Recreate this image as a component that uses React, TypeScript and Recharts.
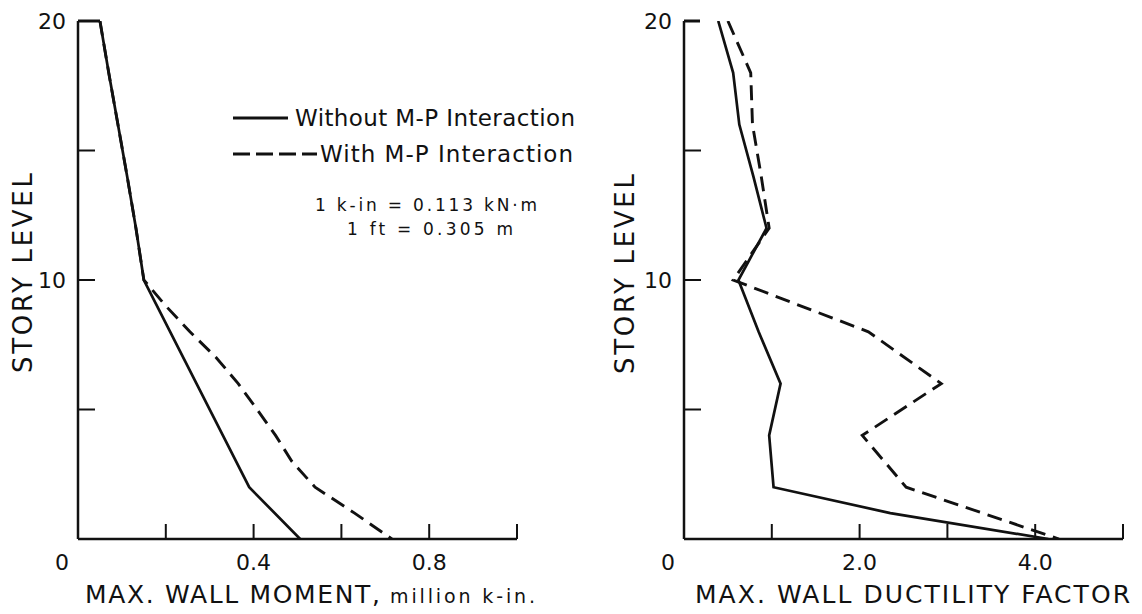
import React from 'react';
import { ScatterChart, Scatter, XAxis, YAxis } from 'recharts';

// Story levels and response values (moment in million k-in., ductility factor)
const momentLevelsWithout = [20, 18, 16, 14, 12, 10, 8, 6, 4, 2, 0];
const momentWithout = [0.05, 0.07, 0.091, 0.112, 0.132, 0.15, 0.21, 0.27, 0.33, 0.39, 0.506];

const momentLevelsWith = [20, 18, 16, 14, 12, 10, 9, 8, 7, 6, 5, 4, 3, 2, 1, 0];
const momentWith = [0.05, 0.07, 0.091, 0.112, 0.132, 0.15, 0.2, 0.255, 0.315, 0.365, 0.408, 0.45, 0.487, 0.54, 0.63, 0.715];

const ductLevelsWithout = [20, 18, 16, 14, 12, 10, 8, 6, 4, 2, 1, 0];
const ductWithout = [0.39, 0.56, 0.63, 0.79, 0.94, 0.62, 0.85, 1.1, 0.97, 1.02, 2.35, 4.15];

const ductLevelsWith = [20, 18, 16, 14, 12, 10, 8, 6, 4, 2, 0];
const ductWith = [0.5, 0.76, 0.78, 0.88, 0.97, 0.56, 2.1, 2.93, 2.03, 2.53, 4.27];

// Axis ticks and the labels shown on them
const storyTicks = [0, 5, 10, 15, 20];
const storyTickLabels: Record<string, string> = { '10': '10', '20': '20' };
const momentTicks = [0, 0.2, 0.4, 0.6, 0.8, 1.0];
const momentTickLabels: Record<string, string> = { '0': '0', '0.4': '0.4', '0.8': '0.8' };
const ductTicks = [0, 1, 2, 3, 4, 5];
const ductTickLabels: Record<string, string> = { '0': '0', '2': '2.0', '4': '4.0' };

const INK = '#111';
const FONT = '"DejaVu Sans", "Liberation Sans", sans-serif';
const AXIS_BAND = 30;

const toPoints = (xs: number[], ys: number[]) => xs.map((v, i) => ({ x: v, y: ys[i] }));

const makeXTick = (labels: Record<string, string>) => (props: any) => {
  const { x, y, payload } = props;
  const v = payload.value;
  const label = labels[String(v)];
  return (
    <g>
      {v !== 0 && <line x1={x} y1={y} x2={x} y2={y - 15} stroke={INK} strokeWidth={2} />}
      {label && (
        <text x={v === 0 ? x - 16 : x} y={y + 31} textAnchor="middle" fontSize={22} fontFamily={FONT} fill={INK}>
          {label}
        </text>
      )}
    </g>
  );
};

const makeYTick = (topLength: number) => (props: any) => {
  const { x, y, payload } = props;
  const v = payload.value;
  const label = storyTickLabels[String(v)];
  const len = v === 20 ? topLength : 17;
  return (
    <g>
      {v !== 0 && <line x1={x} y1={y} x2={x + len} y2={y} stroke={INK} strokeWidth={v === 20 ? 3 : 2} />}
      {label && (
        <text x={x - 12} y={y + 8} textAnchor="end" fontSize={22} fontFamily={FONT} fill={INK}>
          {label}
        </text>
      )}
    </g>
  );
};

const noDot = () => <g />;

const solidLine = { stroke: INK, strokeWidth: 2.7, fill: 'none' };
const dashedLine = { stroke: INK, strokeWidth: 2.9, fill: 'none', strokeDasharray: '15 8' };

function Panel(props: {
  width: number;
  height: number;
  margin: { top: number; right: number; bottom: number; left: number };
  xMax: number;
  xTicks: number[];
  xLabels: Record<string, string>;
  topTick: number;
  solid: { x: number; y: number }[];
  dashed: { x: number; y: number }[];
}) {
  const { width, height, margin, xMax, xTicks, xLabels, topTick, solid, dashed } = props;
  return (
    <ScatterChart
      width={width}
      height={height}
      margin={{
        top: margin.top,
        right: margin.right,
        bottom: margin.bottom - AXIS_BAND,
        left: margin.left - AXIS_BAND,
      }}
    >
      <XAxis
        type="number"
        dataKey="x"
        domain={[0, xMax]}
        ticks={xTicks}
        height={AXIS_BAND}
        tickSize={0}
        tickMargin={0}
        interval={0}
        axisLine={{ stroke: INK, strokeWidth: 2.5 }}
        tickLine={false}
        tick={makeXTick(xLabels)}
        allowDataOverflow
      />
      <YAxis
        type="number"
        dataKey="y"
        domain={[0, 20]}
        ticks={storyTicks}
        width={AXIS_BAND}
        tickSize={0}
        tickMargin={0}
        interval={0}
        axisLine={{ stroke: INK, strokeWidth: 2.5 }}
        tickLine={false}
        tick={makeYTick(topTick)}
        allowDataOverflow
      />
      <Scatter data={solid} line={solidLine} shape={noDot} isAnimationActive={false} />
      <Scatter data={dashed} line={dashedLine} shape={noDot} isAnimationActive={false} />
    </ScatterChart>
  );
}

export default function App() {
  return (
    <div style={{ position: 'absolute', left: 0, top: 0, width: 1142, height: 614, background: '#fff' }}>
      <div style={{ position: 'absolute', left: 0, top: 0 }}>
        <Panel
          width={560}
          height={614}
          margin={{ top: 21, right: 43, bottom: 75, left: 78 }}
          xMax={1.0}
          xTicks={momentTicks}
          xLabels={momentTickLabels}
          topTick={22}
          solid={toPoints(momentWithout, momentLevelsWithout)}
          dashed={toPoints(momentWith, momentLevelsWith)}
        />
      </div>
      <div style={{ position: 'absolute', left: 560, top: 0 }}>
        <Panel
          width={582}
          height={614}
          margin={{ top: 21, right: 19, bottom: 75, left: 124 }}
          xMax={5}
          xTicks={ductTicks}
          xLabels={ductTickLabels}
          topTick={16}
          solid={toPoints(ductWithout, ductLevelsWithout)}
          dashed={toPoints(ductWith, ductLevelsWith)}
        />
      </div>
      <svg
        width={1142}
        height={614}
        style={{ position: 'absolute', left: 0, top: 0, pointerEvents: 'none' }}
        fontFamily={FONT}
        fill={INK}
      >
        {/* axis titles */}
        <text transform="translate(32,273) rotate(-90)" textAnchor="middle" fontSize={26} textLength={200} lengthAdjust="spacing">
          STORY LEVEL
        </text>
        <text transform="translate(634,274) rotate(-90)" textAnchor="middle" fontSize={26} textLength={200} lengthAdjust="spacing">
          STORY LEVEL
        </text>
        <text x={85} y={603} fontSize={25} textLength={295} lengthAdjust="spacing">
          MAX. WALL MOMENT,
        </text>
        <text x={390} y={603} fontSize={19} textLength={145} lengthAdjust="spacing">
          million k-in.
        </text>
        <text x={695} y={603} fontSize={25} textLength={435} lengthAdjust="spacing">
          MAX. WALL DUCTILITY FACTOR
        </text>

        {/* legend and unit notes */}
        <line x1={233} y1={118} x2={288} y2={118} stroke={INK} strokeWidth={3} />
        <text x={295} y={126} fontSize={23} textLength={280} lengthAdjust="spacing">
          Without M-P Interaction
        </text>
        <line x1={233} y1={154} x2={317} y2={154} stroke={INK} strokeWidth={3} strokeDasharray="17 6" />
        <text x={320} y={162} fontSize={23} textLength={253} lengthAdjust="spacing">
          With M-P Interaction
        </text>
        <text x={315} y={211} fontSize={17} textLength={222} lengthAdjust="spacing">
          1 k-in = 0.113 kN·m
        </text>
        <text x={347} y={235} fontSize={17} textLength={166} lengthAdjust="spacing">
          1 ft = 0.305 m
        </text>
      </svg>
    </div>
  );
}
